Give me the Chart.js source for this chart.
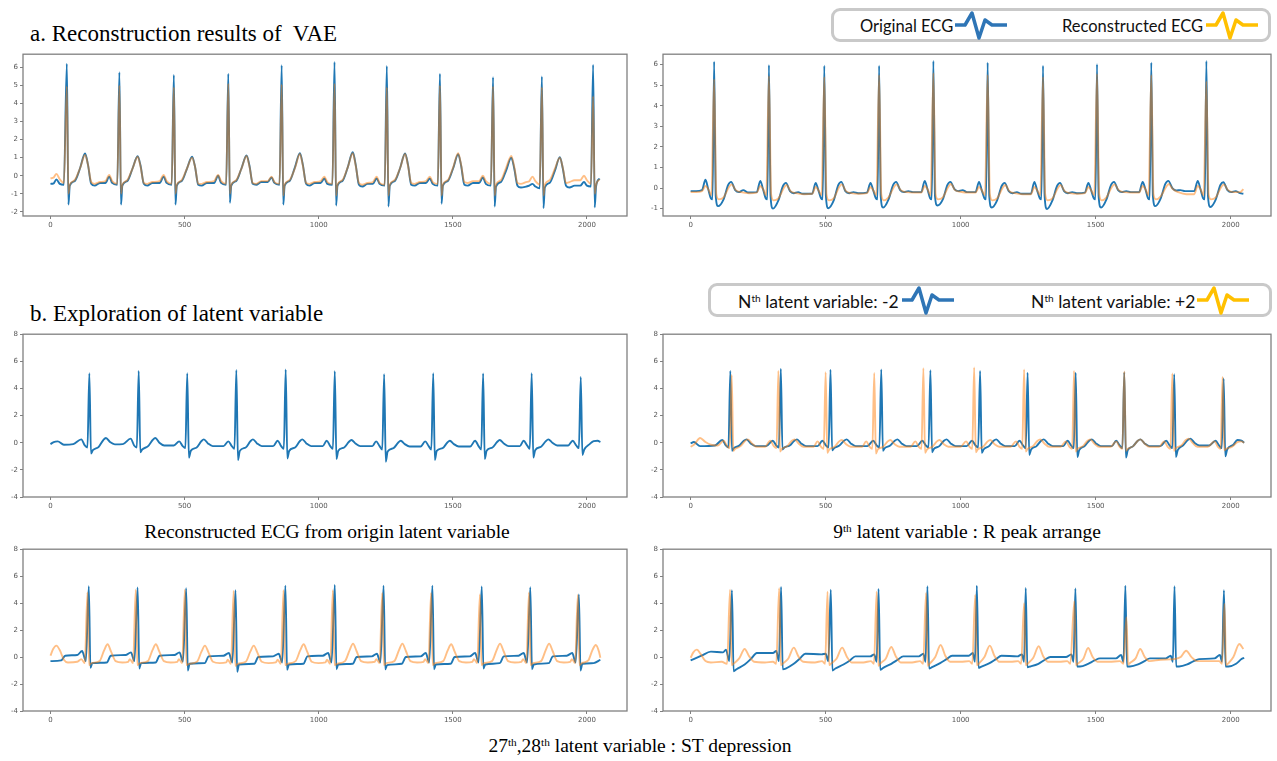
<!DOCTYPE html>
<html>
<head>
<meta charset="utf-8">
<script src="https://cdn.jsdelivr.net/npm/chart.js@4.4.1/dist/chart.umd.min.js"></script>
<style>
  html, body { margin: 0; padding: 0; background: #fff; }
  #page { position: relative; width: 1277px; height: 761px; overflow: hidden; }
  canvas { position: absolute; }
  .serif { position: absolute; font-family: 'Liberation Serif', 'Times New Roman', serif; color: #000; line-height: 1; white-space: pre; }
  .title { font-size: 23px; }
  .caption { font-size: 19.5px; transform: translateX(-50%); }
  .serif sup, .legend-text sup { font-size: 0.58em; vertical-align: 0.55em; line-height: 0; }
  .legend-box { position: absolute; box-sizing: border-box; border: 3px solid #c9c9c9; border-radius: 9px; background: #fff; }
  .legend-text { position: absolute; font-family: Lato, 'Open Sans', sans-serif; font-size: 16.5px; line-height: 1; color: #111; white-space: pre; }
  svg.icon { position: absolute; overflow: visible; }
</style>
</head>
<body>
<div id="page">
  <div class="serif title" style="left:30px;top:22px">a. Reconstruction results of  VAE</div>
  <div class="serif title" style="left:30px;top:302px">b. Exploration of latent variable</div>

  <div class="legend-box" style="left:831px;top:8px;width:440px;height:34px"></div>
  <div class="legend-text" style="left:860px;top:18px">Original ECG</div>
  <svg class="icon" style="left:955px;top:12px" width="52" height="26"><polyline points="0,13 10,13 17,1 24,26 30,8 37,13 52,13" fill="none" stroke="#2e75b6" stroke-width="3.5" stroke-linejoin="round"/></svg>
  <div class="legend-text" style="left:1062px;top:18px">Reconstructed ECG</div>
  <svg class="icon" style="left:1206px;top:12px" width="52" height="26"><polyline points="0,13 10,13 17,1 24,26 30,8 37,13 52,13" fill="none" stroke="#ffc000" stroke-width="3.5" stroke-linejoin="round"/></svg>

  <div class="legend-box" style="left:708px;top:283px;width:564px;height:34px"></div>
  <div class="legend-text" style="left:738px;top:293px;font-size:17.5px">N<sup>th</sup> latent variable: -2</div>
  <svg class="icon" style="left:902px;top:287px" width="52" height="26"><polyline points="0,13 10,13 17,1 24,26 30,8 37,13 52,13" fill="none" stroke="#2e75b6" stroke-width="3.5" stroke-linejoin="round"/></svg>
  <div class="legend-text" style="left:1031px;top:293px;font-size:17.5px">N<sup>th</sup> latent variable: +2</div>
  <svg class="icon" style="left:1197px;top:287px" width="52" height="26"><polyline points="0,13 10,13 17,1 24,26 30,8 37,13 52,13" fill="none" stroke="#ffc000" stroke-width="3.5" stroke-linejoin="round"/></svg>

  <canvas id="a1"></canvas>
  <canvas id="a2"></canvas>
  <canvas id="b1"></canvas>
  <canvas id="b2"></canvas>
  <canvas id="b3"></canvas>
  <canvas id="b4"></canvas>

  <div class="serif caption" style="left:327px;top:522px">Reconstructed ECG from origin latent variable</div>
  <div class="serif caption" style="left:967px;top:522px">9<sup>th</sup> latent variable : R peak arrange</div>
  <div class="serif caption" style="left:640px;top:736px">27<sup>th</sup>,28<sup>th</sup> latent variable : ST depression</div>
</div>

<script>
/* ---------- tick labels ---------- */
const xTicks = [0, 500, 1000, 1500, 2000];
const yTicksA1 = [-2, -1, 0, 1, 2, 3, 4, 5, 6];
const yTicksA2 = [-1, 0, 1, 2, 3, 4, 5, 6];
const yTicksB = [-4, -2, 0, 2, 4, 6, 8];

/* ---------- series (flat x,y pairs) ---------- */
// a. left: original vs reconstructed
const a1Orig = [
  0,-0.45, 12,-0.42, 22,-0.2, 35,-0.45, 50,-0.5,
  61,6.2, 67,-1.6, 72,-0.55, 90,-0.3, 110,0.4, 129,1.23, 140,0.6, 152,-0.45, 165,-0.55, 185,-0.4, 205,-0.4, 219,-0.05, 230,-0.4, 249,-0.5,
  257,5.73, 263,-1.6, 268,-0.55, 286,-0.3, 306,0.4, 325,1.08, 336,0.55, 348,-0.45, 361,-0.55, 380,-0.4, 407,-0.4, 422,-0.05, 433,-0.4, 452,-0.5,
  460,5.58, 466,-1.6, 471,-0.55, 489,-0.3, 509,0.4, 528,1.05, 539,0.5, 551,-0.5, 564,-0.55, 583,-0.4, 610,-0.4, 625,0.0, 636,-0.4, 655,-0.5,
  663,5.65, 669,-1.5, 674,-0.55, 692,-0.3, 712,0.4, 731,1.12, 742,0.55, 754,-0.45, 767,-0.5, 786,-0.35, 810,-0.35, 824,-0.1, 835,-0.4, 854,-0.5,
  862,6.12, 868,-1.6, 873,-0.55, 891,-0.3, 911,0.45, 930,1.25, 941,0.6, 953,-0.45, 966,-0.55, 985,-0.4, 1007,-0.4, 1021,-0.15, 1032,-0.45, 1051,-0.5,
  1059,6.3, 1065,-1.65, 1070,-0.55, 1088,-0.3, 1108,0.45, 1127,1.3, 1138,0.6, 1150,-0.5, 1163,-0.6, 1182,-0.45, 1202,-0.45, 1216,-0.15, 1227,-0.45, 1246,-0.55,
  1254,6.08, 1260,-1.7, 1265,-0.55, 1283,-0.3, 1303,0.4, 1322,1.23, 1333,0.6, 1345,-0.5, 1358,-0.55, 1377,-0.4, 1400,-0.4, 1414,-0.15, 1425,-0.45, 1444,-0.55,
  1452,5.65, 1458,-1.55, 1463,-0.55, 1481,-0.3, 1501,0.4, 1520,1.19, 1531,0.55, 1543,-0.5, 1556,-0.55, 1575,-0.4, 1598,-0.4, 1612,-0.1, 1623,-0.45, 1642,-0.55,
  1650,5.45, 1656,-1.7, 1661,-0.6, 1679,-0.35, 1699,0.3, 1718,1.0, 1729,0.4, 1741,-0.55, 1754,-0.65, 1773,-0.6, 1785,-0.55, 1797,-0.45, 1808,-0.6, 1824,-0.7,
  1832,5.5, 1838,-1.8, 1843,-0.65, 1861,-0.4, 1881,0.3, 1899,1.03, 1910,0.4, 1922,-0.55, 1935,-0.65, 1954,-0.55, 1975,-0.55, 1989,-0.35, 2000,-0.55, 2015,-0.6,
  2023,6.15, 2029,-1.75, 2034,-0.6, 2047,-0.15
];
const a1Rec = [
  0,-0.15, 12,-0.1, 22,0.1, 35,-0.2, 50,-0.4,
  61,4.95, 67,-1.0, 72,-0.5, 90,-0.25, 110,0.4, 129,1.15, 140,0.6, 152,-0.35, 165,-0.45, 185,-0.35, 205,-0.3, 219,0.05, 230,-0.3, 249,-0.45,
  257,5.0, 263,-1.0, 268,-0.5, 286,-0.25, 306,0.4, 325,1.05, 336,0.5, 348,-0.4, 361,-0.45, 380,-0.35, 407,-0.3, 422,0.05, 433,-0.3, 452,-0.45,
  460,4.9, 466,-1.0, 471,-0.5, 489,-0.25, 509,0.4, 528,1.0, 539,0.5, 551,-0.45, 564,-0.45, 583,-0.35, 610,-0.3, 625,0.05, 636,-0.3, 655,-0.45,
  663,5.1, 669,-1.0, 674,-0.5, 692,-0.25, 712,0.4, 731,1.1, 742,0.5, 754,-0.4, 767,-0.45, 786,-0.3, 810,-0.3, 824,-0.05, 835,-0.35, 854,-0.45,
  862,5.05, 868,-1.1, 873,-0.5, 891,-0.25, 911,0.4, 930,1.2, 941,0.55, 953,-0.4, 966,-0.45, 985,-0.35, 1007,-0.3, 1021,-0.05, 1032,-0.35, 1051,-0.45,
  1059,5.1, 1065,-1.1, 1070,-0.5, 1088,-0.25, 1108,0.45, 1127,1.25, 1138,0.55, 1150,-0.4, 1163,-0.5, 1182,-0.4, 1202,-0.35, 1216,-0.05, 1227,-0.4, 1246,-0.5,
  1254,4.9, 1260,-1.1, 1265,-0.5, 1283,-0.25, 1303,0.4, 1322,1.2, 1333,0.55, 1345,-0.4, 1358,-0.45, 1377,-0.35, 1400,-0.3, 1414,-0.05, 1425,-0.35, 1444,-0.45,
  1452,5.0, 1458,-1.1, 1463,-0.5, 1481,-0.25, 1501,0.45, 1520,1.25, 1531,0.6, 1543,-0.35, 1556,-0.4, 1575,-0.3, 1598,-0.3, 1612,0.0, 1623,-0.3, 1642,-0.45,
  1650,4.95, 1656,-1.1, 1661,-0.5, 1679,-0.25, 1699,0.45, 1718,1.1, 1729,0.5, 1741,-0.4, 1754,-0.45, 1773,-0.35, 1785,-0.3, 1797,-0.05, 1808,-0.3, 1824,-0.5,
  1832,4.9, 1838,-1.1, 1843,-0.5, 1861,-0.25, 1881,0.4, 1899,1.0, 1910,0.45, 1922,-0.4, 1935,-0.35, 1954,-0.25, 1975,-0.25, 1989,0.0, 2000,-0.25, 2015,-0.45,
  2023,4.4, 2029,-1.0, 2034,-0.5, 2047,-0.2
];

// a. right: original vs reconstructed
const a2Orig = [
  0,-0.15, 20,-0.15, 42,-0.1,
  55,0.4, 65,-0.05, 75,-0.5, 81,-0.55, 87,6.15, 93,-0.4, 102,-0.88, 122,-0.55, 139,0.15, 150,0.3, 165,-0.1, 179,-0.2, 195,-0.1, 212,-0.22, 245,-0.2,
  258,0.35, 268,-0.05, 278,-0.5, 284,-0.55, 290,5.98, 296,-0.4, 305,-1.0, 325,-0.6, 342,0.1, 353,0.25, 368,-0.15, 382,-0.25, 398,-0.2, 415,-0.28, 450,-0.28,
  463,0.25, 473,-0.1, 483,-0.5, 489,-0.55, 495,5.95, 501,-0.4, 510,-0.98, 530,-0.6, 547,0.15, 558,0.3, 573,-0.15, 587,-0.25, 603,-0.2, 620,-0.25, 653,-0.22,
  666,0.25, 676,-0.1, 686,-0.5, 692,-0.55, 698,5.95, 704,-0.4, 713,-0.95, 733,-0.55, 750,0.15, 761,0.3, 776,-0.1, 790,-0.2, 806,-0.15, 823,-0.2, 854,-0.2,
  867,0.35, 877,-0.05, 887,-0.5, 893,-0.55, 899,6.18, 905,-0.4, 914,-0.85, 934,-0.55, 951,0.15, 962,0.3, 977,-0.05, 991,-0.15, 1007,-0.1, 1024,-0.2, 1055,-0.2,
  1068,0.3, 1078,-0.1, 1088,-0.5, 1094,-0.55, 1100,6.1, 1106,-0.4, 1115,-0.95, 1135,-0.6, 1152,0.1, 1163,0.25, 1178,-0.15, 1192,-0.25, 1208,-0.2, 1225,-0.28, 1260,-0.28,
  1273,0.3, 1283,-0.1, 1293,-0.5, 1299,-0.55, 1305,5.95, 1311,-0.4, 1320,-1.02, 1340,-0.6, 1357,0.1, 1368,0.25, 1383,-0.15, 1397,-0.25, 1413,-0.2, 1430,-0.25, 1460,-0.22,
  1473,0.25, 1483,-0.1, 1493,-0.5, 1499,-0.55, 1505,6.02, 1511,-0.4, 1520,-0.95, 1540,-0.55, 1557,0.15, 1568,0.3, 1583,-0.1, 1597,-0.2, 1613,-0.15, 1630,-0.2, 1661,-0.2,
  1674,0.3, 1684,-0.05, 1694,-0.5, 1700,-0.55, 1706,6.1, 1712,-0.4, 1721,-0.88, 1741,-0.5, 1758,0.2, 1769,0.35, 1784,0.0, 1798,-0.12, 1814,-0.1, 1831,-0.15, 1865,-0.15,
  1878,0.35, 1888,-0.05, 1898,-0.5, 1904,-0.55, 1910,6.18, 1916,-0.4, 1925,-0.92, 1945,-0.55, 1962,0.15, 1973,0.28, 1988,-0.1, 2002,-0.2, 2018,-0.15, 2035,-0.25, 2047,-0.28
];
const a2Rec = [
  0,-0.2, 20,-0.2, 42,-0.15,
  55,0.1, 65,-0.05, 77,-0.35, 87,5.3, 95,-0.3, 104,-0.55, 122,-0.45, 142,0.05, 152,0.18, 167,-0.1, 187,-0.2, 217,-0.25, 245,-0.22,
  258,0.1, 268,-0.05, 280,-0.35, 290,5.45, 298,-0.3, 307,-0.6, 325,-0.5, 345,0.0, 355,0.15, 370,-0.15, 390,-0.25, 420,-0.3, 450,-0.28,
  463,0.05, 473,-0.1, 485,-0.35, 495,5.4, 503,-0.3, 512,-0.6, 530,-0.5, 550,0.05, 560,0.18, 575,-0.15, 595,-0.25, 625,-0.28, 653,-0.25,
  666,0.05, 676,-0.1, 688,-0.35, 698,5.5, 706,-0.3, 715,-0.6, 733,-0.45, 753,0.05, 763,0.18, 778,-0.1, 798,-0.2, 828,-0.22, 854,-0.22,
  867,0.1, 877,-0.05, 889,-0.35, 899,5.6, 907,-0.3, 916,-0.55, 934,-0.45, 954,0.05, 964,0.2, 979,-0.1, 999,-0.18, 1029,-0.22, 1055,-0.22,
  1068,0.05, 1078,-0.1, 1090,-0.35, 1100,5.5, 1108,-0.3, 1117,-0.6, 1135,-0.5, 1155,0.0, 1165,0.15, 1180,-0.15, 1200,-0.25, 1230,-0.3, 1260,-0.3,
  1273,0.05, 1283,-0.1, 1295,-0.35, 1305,5.4, 1313,-0.3, 1322,-0.6, 1340,-0.5, 1360,0.0, 1370,0.15, 1385,-0.15, 1405,-0.25, 1435,-0.28, 1460,-0.25,
  1473,0.05, 1483,-0.1, 1495,-0.35, 1505,5.55, 1513,-0.3, 1522,-0.6, 1540,-0.45, 1560,0.05, 1570,0.18, 1585,-0.1, 1605,-0.2, 1635,-0.22, 1661,-0.22,
  1674,0.1, 1684,-0.05, 1696,-0.35, 1706,5.5, 1714,-0.3, 1723,-0.55, 1741,-0.4, 1761,0.05, 1771,0.2, 1786,-0.05, 1806,-0.2, 1836,-0.3, 1865,-0.3,
  1878,0.1, 1888,-0.05, 1900,-0.35, 1910,5.2, 1918,-0.3, 1927,-0.55, 1945,-0.45, 1965,0.05, 1975,0.18, 1990,-0.1, 2010,-0.2, 2035,-0.2, 2047,-0.05
];

// b. reconstruction from the original latent variable
const b1Orig = [
  0,-0.1, 12,0.05, 27,0.1, 50,-0.15, 85,-0.1,
  115,0.25, 128,-0.2, 138,-0.35, 145,5.13, 151,-0.8, 158,-0.55, 180,-0.3, 197,0.2, 207,0.35, 222,0.05, 240,-0.12, 270,-0.1,
  299,0.3, 312,-0.2, 322,-0.35, 329,5.3, 335,-0.7, 342,-0.5, 364,-0.25, 381,0.2, 391,0.35, 406,0.0, 424,-0.2, 460,-0.2,
  480,0.1, 493,-0.25, 503,-0.4, 510,5.13, 516,-1.1, 523,-0.6, 545,-0.35, 562,0.1, 572,0.25, 587,-0.05, 605,-0.25, 645,-0.25,
  663,0.1, 676,-0.25, 686,-0.45, 693,5.37, 699,-1.28, 706,-0.6, 728,-0.35, 745,0.1, 755,0.25, 770,-0.05, 788,-0.25, 830,-0.25,
  847,0.15, 860,-0.25, 870,-0.45, 877,5.4, 883,-1.16, 890,-0.6, 912,-0.35, 929,0.1, 939,0.25, 954,-0.05, 972,-0.25, 1015,-0.25,
  1030,0.15, 1043,-0.25, 1053,-0.45, 1060,5.28, 1066,-1.2, 1073,-0.6, 1095,-0.35, 1112,0.05, 1122,0.2, 1137,-0.05, 1155,-0.25, 1200,-0.25,
  1214,0.1, 1227,-0.25, 1237,-0.5, 1244,5.06, 1250,-1.4, 1257,-0.65, 1279,-0.4, 1296,0.0, 1306,0.15, 1321,-0.1, 1339,-0.28, 1380,-0.28,
  1397,0.1, 1410,-0.25, 1420,-0.5, 1427,5.13, 1433,-1.28, 1440,-0.6, 1462,-0.4, 1479,0.0, 1489,0.15, 1504,-0.1, 1522,-0.28, 1565,-0.28,
  1583,0.15, 1596,-0.25, 1606,-0.5, 1613,5.1, 1619,-1.2, 1626,-0.6, 1648,-0.35, 1665,0.05, 1675,0.2, 1690,-0.05, 1708,-0.25, 1750,-0.25,
  1764,0.15, 1777,-0.2, 1787,-0.45, 1794,5.13, 1800,-1.1, 1807,-0.55, 1829,-0.3, 1846,0.1, 1856,0.25, 1871,0.0, 1889,-0.2, 1930,-0.2,
  1947,0.15, 1960,-0.2, 1970,-0.4, 1977,4.84, 1983,-0.9, 1990,-0.5, 2010,-0.1, 2025,0.12, 2040,0.15, 2050,0.05
];

// b. 9th latent variable: -2 / +2
const b2Neg = [
  0,-0.05, 12,0.05, 35,-0.25, 90,-0.2,
  117,0.2, 130,-0.2, 140,-0.35, 147,5.3, 153,-0.6, 160,-0.4, 180,-0.2, 197,0.15, 207,0.25, 222,-0.05, 240,-0.25, 280,-0.25,
  304,0.15, 317,-0.2, 327,-0.35, 334,5.46, 340,-0.5, 347,-0.35, 367,-0.2, 384,0.15, 394,0.25, 409,-0.05, 427,-0.25, 470,-0.25,
  488,0.15, 501,-0.2, 511,-0.35, 518,5.39, 524,-0.55, 531,-0.4, 551,-0.2, 568,0.15, 578,0.25, 593,-0.05, 611,-0.25, 655,-0.25,
  676,0.15, 689,-0.2, 699,-0.35, 706,5.41, 712,-0.6, 719,-0.4, 739,-0.2, 756,0.15, 766,0.25, 781,-0.05, 799,-0.25, 838,-0.25,
  858,0.15, 871,-0.2, 881,-0.35, 888,5.34, 894,-0.7, 901,-0.45, 921,-0.25, 938,0.15, 948,0.25, 963,-0.05, 981,-0.25, 1022,-0.25,
  1042,0.15, 1055,-0.2, 1065,-0.35, 1072,5.29, 1078,-0.75, 1085,-0.5, 1105,-0.25, 1122,0.15, 1132,0.25, 1147,-0.05, 1165,-0.25, 1200,-0.25,
  1218,0.15, 1231,-0.2, 1241,-0.4, 1248,5.17, 1254,-0.9, 1261,-0.5, 1281,-0.25, 1298,0.15, 1308,0.25, 1323,-0.05, 1341,-0.25, 1380,-0.25,
  1396,0.15, 1409,-0.2, 1419,-0.4, 1426,5.17, 1432,-1.05, 1439,-0.55, 1459,-0.25, 1476,0.15, 1486,0.25, 1501,-0.05, 1519,-0.25, 1560,-0.25,
  1576,0.15, 1589,-0.2, 1599,-0.4, 1606,5.2, 1612,-1.1, 1619,-0.55, 1639,-0.25, 1656,0.15, 1666,0.25, 1681,-0.05, 1699,-0.25, 1740,-0.25,
  1761,0.15, 1774,-0.2, 1784,-0.4, 1791,5.05, 1797,-1.05, 1804,-0.55, 1824,-0.2, 1841,0.2, 1851,0.3, 1866,0.0, 1884,-0.2, 1920,-0.2,
  1944,0.15, 1957,-0.2, 1967,-0.4, 1974,4.73, 1980,-1.0, 1987,-0.5, 2010,-0.15, 2025,0.2, 2040,0.15, 2050,0.0
];
const b2Pos = [
  0,-0.3, 15,-0.1, 35,0.35, 55,0.05, 75,-0.15, 100,-0.2,
  122,0.15, 135,-0.25, 145,-0.4, 152,5.0, 158,-0.6, 165,-0.45, 185,-0.25, 202,0.15, 212,0.25, 227,-0.05, 245,-0.3, 275,-0.3,
  295,0.15, 308,-0.25, 318,-0.4, 325,5.3, 331,-0.65, 338,-0.45, 358,-0.25, 375,0.15, 385,0.25, 400,-0.05, 418,-0.3, 455,-0.3,
  470,0.1, 483,-0.3, 493,-0.45, 500,5.2, 506,-0.75, 513,-0.5, 533,-0.3, 550,0.1, 560,0.2, 575,-0.1, 593,-0.3, 635,-0.3,
  650,0.1, 663,-0.3, 673,-0.45, 680,5.15, 686,-0.8, 693,-0.5, 713,-0.3, 730,0.1, 740,0.2, 755,-0.1, 773,-0.3, 815,-0.3,
  832,0.1, 845,-0.3, 855,-0.45, 862,5.5, 868,-0.75, 875,-0.5, 895,-0.3, 912,0.1, 922,0.2, 937,-0.1, 955,-0.3, 1000,-0.3,
  1020,0.1, 1033,-0.3, 1043,-0.45, 1050,5.55, 1056,-0.7, 1063,-0.5, 1083,-0.3, 1100,0.1, 1110,0.2, 1125,-0.1, 1143,-0.3, 1185,-0.3,
  1205,0.1, 1218,-0.3, 1228,-0.45, 1235,5.4, 1241,-0.65, 1248,-0.45, 1268,-0.25, 1285,0.15, 1295,0.25, 1310,-0.05, 1328,-0.3, 1370,-0.3,
  1390,0.1, 1403,-0.3, 1413,-0.45, 1420,5.3, 1426,-0.65, 1433,-0.45, 1453,-0.25, 1470,0.15, 1480,0.25, 1495,-0.05, 1513,-0.3, 1555,-0.3,
  1576,0.1, 1589,-0.3, 1599,-0.45, 1606,5.25, 1612,-0.6, 1619,-0.45, 1639,-0.25, 1656,0.15, 1666,0.25, 1681,-0.05, 1699,-0.3, 1735,-0.3,
  1754,0.1, 1767,-0.3, 1777,-0.45, 1784,5.1, 1790,-0.6, 1797,-0.4, 1817,-0.2, 1834,0.2, 1844,0.3, 1859,0.0, 1877,-0.3, 1915,-0.3,
  1940,0.1, 1953,-0.3, 1963,-0.45, 1970,4.85, 1976,-0.55, 1983,-0.45, 2005,-0.3, 2025,0.05, 2040,0.1, 2050,0.0
];

// b. 27th,28th latent variable: -2 / +2
const b3Neg = [
  0,-0.3, 40,-0.25, 55,0.1, 100,0.15, 118,0.45, 132,-0.3,
  143,5.26, 149,-0.8, 156,-0.45, 210,-0.4, 225,0.1, 280,0.15, 300,0.35, 313,-0.3,
  325,5.16, 331,-0.85, 338,-0.45, 392,-0.4, 407,0.1, 462,0.15, 481,0.35, 494,-0.35,
  506,5.1, 512,-1.0, 519,-0.5, 575,-0.45, 590,0.05, 645,0.1, 665,0.3, 678,-0.4,
  690,4.95, 696,-1.1, 703,-0.55, 760,-0.5, 775,0.0, 830,0.05, 851,0.25, 864,-0.4,
  876,5.3, 882,-0.95, 889,-0.55, 943,-0.5, 958,0.05, 1015,0.1, 1035,0.3, 1048,-0.4,
  1060,5.35, 1066,-0.9, 1073,-0.55, 1127,-0.5, 1142,0.0, 1198,0.05, 1217,0.25, 1230,-0.4,
  1242,5.3, 1248,-0.9, 1255,-0.6, 1310,-0.5, 1325,0.0, 1380,0.05, 1399,0.3, 1412,-0.4,
  1424,5.3, 1430,-0.9, 1437,-0.55, 1492,-0.5, 1507,0.0, 1563,0.05, 1583,0.3, 1596,-0.4,
  1608,5.23, 1614,-0.85, 1621,-0.55, 1675,-0.45, 1690,0.05, 1745,0.1, 1764,0.3, 1777,-0.4,
  1789,5.18, 1795,-0.9, 1802,-0.55, 1858,-0.45, 1873,0.05, 1925,0.1, 1945,0.3, 1958,-0.4,
  1970,4.65, 1976,-1.0, 1983,-0.5, 2025,-0.45, 2050,-0.2
];
const b3Pos = [
  0,0.1, 10,0.6, 22,0.85, 35,0.5, 50,-0.2, 65,-0.4, 100,-0.35, 115,-0.15, 128,-0.45,
  138,4.8, 144,-0.6, 153,-0.45, 183,-0.3, 200,0.5, 213,0.95, 226,0.4, 243,-0.3, 268,-0.4, 290,-0.35, 296,-0.15, 308,-0.45,
  318,5.0, 324,-0.6, 333,-0.45, 363,-0.3, 380,0.5, 393,0.95, 406,0.4, 423,-0.3, 448,-0.4, 473,-0.35, 479,-0.15, 491,-0.45,
  501,5.0, 507,-0.6, 516,-0.5, 546,-0.35, 563,0.4, 576,0.85, 589,0.35, 606,-0.35, 631,-0.45, 655,-0.4, 661,-0.2, 673,-0.5,
  683,4.9, 689,-0.65, 698,-0.5, 728,-0.35, 745,0.4, 758,0.85, 771,0.35, 788,-0.35, 813,-0.45, 840,-0.4, 847,-0.2, 859,-0.5,
  869,4.95, 875,-0.6, 884,-0.5, 914,-0.3, 931,0.5, 944,0.95, 957,0.4, 974,-0.35, 999,-0.45, 1025,-0.4, 1031,-0.2, 1043,-0.5,
  1053,4.95, 1059,-0.6, 1068,-0.5, 1098,-0.3, 1115,0.5, 1128,1.0, 1141,0.45, 1158,-0.3, 1183,-0.4, 1209,-0.35, 1215,-0.15, 1227,-0.45,
  1237,4.75, 1243,-0.6, 1252,-0.45, 1282,-0.3, 1299,0.5, 1312,1.0, 1325,0.45, 1342,-0.3, 1367,-0.4, 1391,-0.35, 1397,-0.15, 1409,-0.45,
  1419,4.75, 1425,-0.6, 1434,-0.45, 1464,-0.3, 1481,0.5, 1494,0.95, 1507,0.4, 1524,-0.3, 1549,-0.4, 1573,-0.35, 1579,-0.15, 1591,-0.45,
  1601,4.65, 1607,-0.6, 1616,-0.45, 1646,-0.3, 1663,0.5, 1676,1.0, 1689,0.45, 1706,-0.3, 1731,-0.4, 1756,-0.35, 1762,-0.15, 1774,-0.45,
  1784,4.8, 1790,-0.6, 1799,-0.45, 1829,-0.3, 1846,0.5, 1859,1.0, 1872,0.45, 1889,-0.3, 1914,-0.4, 1938,-0.35, 1944,-0.15, 1956,-0.45,
  1966,4.6, 1972,-0.6, 1981,-0.45, 2005,-0.25, 2020,0.5, 2033,0.9, 2045,0.4, 2050,-0.05
];

// b. extra pair: -2 / +2
const b4Neg = [
  0,-0.25, 40,0.1, 75,0.4, 120,0.35, 131,0.55, 143,-0.3,
  153,4.96, 159,-1.05, 170,-0.9, 200,-0.55, 225,-0.1, 245,0.3, 305,0.3, 317,0.45, 327,-0.3,
  335,5.2, 341,-0.9, 352,-0.85, 382,-0.5, 405,-0.1, 425,0.25, 485,0.2, 500,0.25, 510,-0.3,
  519,5.0, 525,-1.0, 536,-0.85, 566,-0.55, 590,-0.25, 610,0.05, 665,0.05, 680,0.2, 689,-0.35,
  696,5.06, 702,-0.95, 713,-0.8, 743,-0.5, 767,-0.2, 787,0.05, 845,0.05, 862,0.25, 870,-0.35,
  877,5.26, 883,-0.85, 894,-0.75, 924,-0.45, 948,-0.15, 968,0.1, 1030,0.1, 1045,0.3, 1053,-0.35,
  1060,5.3, 1066,-0.8, 1077,-0.7, 1107,-0.45, 1131,-0.15, 1151,0.1, 1210,0.05, 1227,0.2, 1235,-0.35,
  1241,5.13, 1247,-0.75, 1258,-0.7, 1288,-0.5, 1312,-0.2, 1332,0.0, 1390,0.0, 1410,0.2, 1418,-0.35,
  1425,5.08, 1431,-0.7, 1442,-0.7, 1472,-0.5, 1496,-0.25, 1516,-0.1, 1575,-0.1, 1594,0.15, 1603,-0.35,
  1610,5.3, 1616,-0.7, 1627,-0.7, 1657,-0.55, 1681,-0.3, 1701,-0.1, 1760,-0.1, 1778,0.1, 1786,-0.35,
  1792,5.26, 1798,-0.7, 1809,-0.7, 1839,-0.55, 1863,-0.3, 1883,-0.15, 1940,-0.1, 1960,0.15, 1968,-0.35,
  1975,4.96, 1981,-0.7, 1992,-0.7, 2020,-0.5, 2040,-0.15, 2050,-0.05
];
const b4Pos = [
  0,-0.05, 10,0.35, 23,0.55, 38,0.2, 55,-0.3, 75,-0.4, 115,-0.35, 135,-0.5,
  146,5.0, 152,-0.6, 161,-0.45, 180,-0.1, 200,0.6, 217,0.05, 235,-0.35, 275,-0.4, 305,-0.35, 317,-0.5,
  328,5.1, 334,-0.6, 343,-0.45, 362,-0.1, 382,0.7, 399,0.05, 417,-0.35, 460,-0.4, 487,-0.3, 498,-0.5,
  507,4.85, 513,-0.6, 522,-0.45, 541,-0.1, 561,0.7, 578,0.05, 596,-0.4, 640,-0.4, 668,-0.3, 679,-0.5,
  689,4.85, 695,-0.65, 704,-0.45, 723,-0.1, 743,0.75, 760,0.05, 778,-0.4, 820,-0.4, 850,-0.3, 861,-0.5,
  872,4.75, 878,-0.65, 887,-0.45, 906,0.0, 926,0.9, 943,0.1, 961,-0.35, 1000,-0.35, 1032,-0.3, 1043,-0.5,
  1054,4.6, 1060,-0.6, 1069,-0.45, 1088,0.0, 1108,0.85, 1125,0.1, 1143,-0.35, 1185,-0.35, 1213,-0.3, 1224,-0.5,
  1235,4.0, 1241,-0.6, 1250,-0.45, 1269,-0.05, 1289,0.8, 1306,0.05, 1324,-0.35, 1365,-0.35, 1395,-0.3, 1406,-0.5,
  1421,4.15, 1427,-0.6, 1436,-0.45, 1455,-0.1, 1472,0.67, 1489,0.0, 1507,-0.35, 1550,-0.35, 1590,-0.3, 1603,-0.5,
  1614,2.95, 1620,-0.55, 1629,-0.4, 1648,-0.1, 1665,0.6, 1682,0.0, 1700,-0.3, 1740,-0.2, 1790,-0.15, 1815,0.0, 1835,0.47, 1855,0.0, 1875,-0.3, 1930,-0.3, 1958,-0.3, 1968,-0.5,
  1977,3.95, 1983,-0.6, 1992,-0.45, 2010,0.0, 2032,0.97, 2047,0.6
];

/* ---------- rendering ---------- */
const BLUE = '#1f77b4';
const ORANGE = 'rgba(255, 127, 14, 0.5)';
const AXIS_GREY = '#808080';
const X_MIN = -102.35, X_MAX = 2149.35;

Chart.defaults.font.family = "'DejaVu Sans', sans-serif";

const toPoints = flat => {
  const pts = [];
  for (let i = 0; i < flat.length; i += 2) pts.push({ x: flat[i], y: flat[i + 1] });
  return pts;
};

// full box round the plot area, like matplotlib spines
const framePlugin = {
  id: 'frame',
  afterDatasetsDraw(chart) {
    const { ctx, chartArea: c } = chart;
    ctx.save();
    ctx.strokeStyle = AXIS_GREY;
    ctx.lineWidth = 1.3;
    ctx.strokeRect(c.left, c.top, c.right - c.left, c.bottom - c.top);
    ctx.restore();
  }
};

function makePanel(id, frame, yMin, yMax, yTicks, series) {
  const Y_W = 20, X_H = 16, PAD = 4;
  const canvas = document.getElementById(id);
  const w = frame.r - frame.l + Y_W + PAD;
  const h = frame.b - frame.t + X_H + PAD;
  canvas.width = w; canvas.height = h;
  canvas.style.width = w + 'px'; canvas.style.height = h + 'px';
  canvas.style.left = (frame.l - Y_W) + 'px';
  canvas.style.top = (frame.t - PAD) + 'px';

  const tickStyle = { color: '#555', font: { size: 7 }, padding: 2, maxRotation: 0, callback: v => String(v) };
  const gridStyle = { drawOnChartArea: false, drawTicks: true, tickLength: 3, color: AXIS_GREY, lineWidth: 1 };

  return new Chart(canvas.getContext('2d'), {
    type: 'line',
    data: {
      datasets: series.map(s => ({
        data: toPoints(s.data),
        borderColor: s.color,
        borderWidth: 1.9,
        pointRadius: 0,
        fill: false,
        cubicInterpolationMode: 'monotone',
        order: s.order
      }))
    },
    options: {
      responsive: false,
      animation: false,
      devicePixelRatio: 1,
      layout: { padding: { top: PAD, right: PAD, left: 0, bottom: 0 } },
      plugins: { legend: { display: false }, tooltip: { enabled: false } },
      scales: {
        x: {
          type: 'linear', min: X_MIN, max: X_MAX,
          afterBuildTicks: axis => { axis.ticks = xTicks.map(v => ({ value: v })); },
          afterFit: axis => { axis.height = X_H; },
          ticks: tickStyle, grid: gridStyle, border: { display: false }
        },
        y: {
          type: 'linear', min: yMin, max: yMax,
          afterBuildTicks: axis => { axis.ticks = yTicks.map(v => ({ value: v })); },
          afterFit: axis => { axis.width = Y_W; },
          ticks: tickStyle, grid: gridStyle, border: { display: false }
        }
      }
    },
    plugins: [framePlugin]
  });
}

// orange (order 0) is drawn over blue (order 1)
makePanel('a1', { l: 23, t: 52, r: 627, b: 216 }, -2.23, 6.73, yTicksA1, [
  { data: a1Orig, color: BLUE, order: 1 },
  { data: a1Rec, color: ORANGE, order: 0 }
]);
makePanel('a2', { l: 663, t: 52, r: 1271, b: 216 }, -1.36, 6.51, yTicksA2, [
  { data: a2Orig, color: BLUE, order: 1 },
  { data: a2Rec, color: ORANGE, order: 0 }
]);
makePanel('b1', { l: 23, t: 332, r: 627, b: 497 }, -4, 8, yTicksB, [
  { data: b1Orig, color: BLUE, order: 1 }
]);
makePanel('b2', { l: 663, t: 332, r: 1271, b: 497 }, -4, 8, yTicksB, [
  { data: b2Neg, color: BLUE, order: 1 },
  { data: b2Pos, color: ORANGE, order: 0 }
]);
makePanel('b3', { l: 23, t: 547, r: 627, b: 711 }, -4, 8, yTicksB, [
  { data: b3Neg, color: BLUE, order: 1 },
  { data: b3Pos, color: ORANGE, order: 0 }
]);
makePanel('b4', { l: 663, t: 547, r: 1271, b: 711 }, -4, 8, yTicksB, [
  { data: b4Neg, color: BLUE, order: 1 },
  { data: b4Pos, color: ORANGE, order: 0 }
]);
</script>
</body>
</html>
